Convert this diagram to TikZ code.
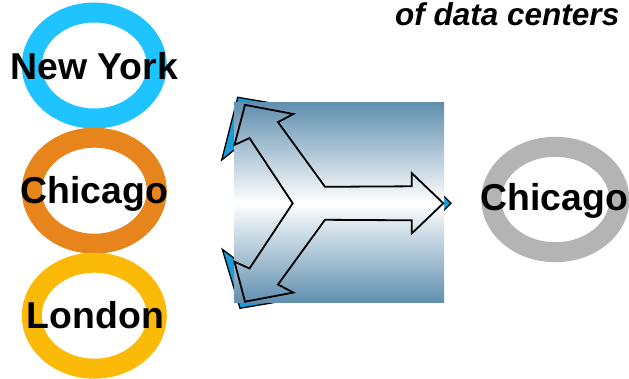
\documentclass[tikz,border=0pt]{standalone}
\usepackage{fontspec}
\setmainfont{Liberation Sans}
\usetikzlibrary{shapes.geometric}
\definecolor{nyblue}{RGB}{31,195,255}
\definecolor{chiorange}{RGB}{232,132,28}
\definecolor{londonyellow}{RGB}{251,185,8}
\definecolor{ringgrey}{RGB}{180,180,180}
\definecolor{steelbox}{RGB}{96,143,175}
\definecolor{tipblue}{RGB}{26,156,216}
\begin{document}
\begin{tikzpicture}[x=1pt,y=-1pt,
    ring/.style={draw=#1, line width=20pt, ellipse, minimum width=125pt, minimum height=106pt, inner sep=0pt},
    city/.style={font=\fontsize{37.4}{41}\selectfont\bfseries, anchor=base, inner sep=0pt},
    shadowtip/.style={fill=tipblue, draw=black, line width=1.3pt, line join=miter},
    mergearrow/.style={draw=black, line width=1.8pt, line join=miter}]
\useasboundingbox (0,0) rectangle (629,379);
% source rings
\node[ring=nyblue] (nyring) at (94.3,65.5) {};
\node[ring=chiorange] (chiring) at (94.3,190.7) {};
\node[ring=londonyellow] (lonring) at (94.3,315.7) {};
\node[ring=ringgrey, minimum width=128pt, minimum height=105.4pt] (targetring) at (555.3,199.5) {};
% blue tips behind the box
\draw[shadowtip] (237.7,97.3) -- (289,106) -- (221.7,160) -- cycle;
\draw[shadowtip] (222.3,249.3) -- (289,300) -- (240,308.3) -- cycle;
\draw[shadowtip] (451,203.3) -- (420,172) -- (420,234) -- cycle;
% gradient box
\shade[top color=steelbox, bottom color=steelbox, middle color=white] (234,102.7) rectangle (444,302.7);
% merge arrow
\draw[mergearrow] (443.3,203.3) -- (411.7,233.5) -- (411.7,220.3) -- (325,219.8)
  -- (278,284.5) -- (293.3,292.6) -- (245,301.7) -- (234.5,261.7) -- (249.5,268.5)
  -- (292.7,203.3) -- (249.5,138.1) -- (234.5,144.9) -- (245,104.9) -- (293.3,114)
  -- (278,122.1) -- (325,186.8) -- (411.7,186.3) -- (411.7,173.1) -- cycle;
% labels
\node[city] (ny) at (94.2,80) {New York};
\node[city] (chi) at (94.5,203.3) {Chicago};
\node[city] (lon) at (95.5,328) {London};
\node[city] (target) at (554.2,211) {Chicago};
\node[font=\fontsize{31.5}{35}\selectfont\bfseries\itshape, anchor=base east, inner sep=0pt] (caption) at (619.5,26) {of data centers};
\end{tikzpicture}
\end{document}
